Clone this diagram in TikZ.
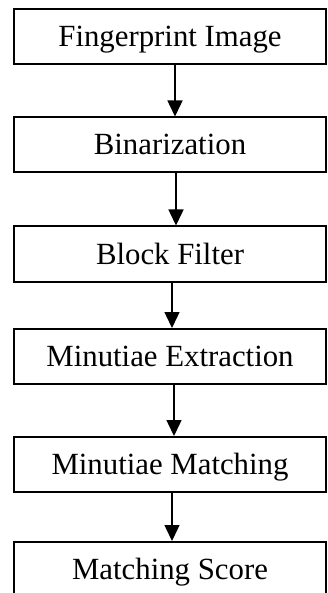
\documentclass[tikz,border=0pt]{standalone}
\usepackage{fontspec}
\setmainfont{Liberation Serif}
\usetikzlibrary{arrows.meta}

\tikzset{
    stage/.style={
        draw,
        line width=2pt,
        minimum width=312pt,
        minimum height=55pt,
        inner sep=0,
        text height=20pt,
        text depth=0pt
    },
    flow/.style={line width=1.5pt, -{Triangle[length=16pt, width=15pt]}}
}

\begin{document}
\begin{tikzpicture}[x=1pt, y=-1pt, font=\fontsize{30.8}{36}\selectfont]

\useasboundingbox (0, 0) rectangle (327, 593);
\clip (0, 0) rectangle (327, 593);

\foreach\name/\y/\txt in {img/37/Fingerprint Image, bin/145/Binarization, blk/254/Block Filter, ext/356.5/Minutiae Extraction, mat/464.5/Minutiae Matching, score/569.5/Matching Score}{
    \node[stage] (\name) at (170, \y) {\txt};
}
\foreach\a/\b/\dx in {img/bin/5, bin/blk/6, blk/ext/2, ext/mat/4, mat/score/2}{
    \draw[flow] ([xshift=\dx pt]\a.south) -- ([xshift=\dx pt]\b.north);
}

\end{tikzpicture}
\end{document}
